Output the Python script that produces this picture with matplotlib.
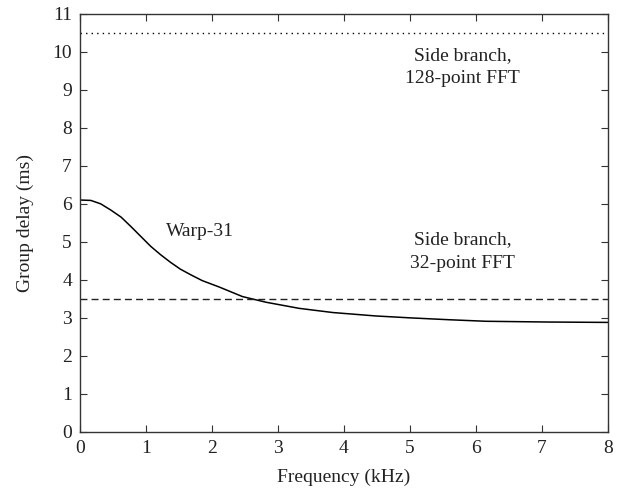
import matplotlib
matplotlib.use("Agg")
import matplotlib.pyplot as plt

plt.rcParams['font.family'] = ['Liberation Serif', 'DejaVu Serif']

freq_khz = [0.0, 0.16, 0.31, 0.46, 0.62, 0.77, 0.92, 1.07, 1.22, 1.37, 1.52, 1.68,
            1.85, 2.11, 2.46, 2.82, 3.32, 3.83, 4.48, 5.0, 5.6, 6.15, 7.1, 8.0]
warp31_ms = [6.1, 6.09, 6.0, 5.84, 5.65, 5.40, 5.14, 4.88, 4.66, 4.46, 4.28, 4.13,
             3.98, 3.81, 3.56, 3.41, 3.25, 3.14, 3.05, 3.0, 2.95, 2.91, 2.89, 2.88]
side_32_ms = 3.5
side_128_ms = 10.5

fig = plt.figure(figsize=(6.22, 4.93), dpi=100)
ax = fig.add_axes([0.129, 0.124, 0.848, 0.848])

ax.plot(freq_khz, warp31_ms, color='black', lw=1.1)
ax.axhline(side_32_ms, color='#222222', lw=1.0, ls=(0, (5, 3)))
ax.axhline(side_128_ms, color='black', lw=1.0, ls=(0, (1, 3)))

ax.set_xlim(0, 8)
ax.set_ylim(0, 11)
ax.set_xticks(range(0, 9))
ax.set_yticks(range(0, 12))
ax.tick_params(direction='in', top=True, right=True, labelsize=14, length=5,
               color='#333333', pad=6, labelcolor='#222222')
for s in ax.spines.values():
    s.set_color('#333333')
    s.set_linewidth(1.0)

ax.set_xlabel('Frequency (kHz)', fontsize=14, color='#222222', labelpad=8)
ax.set_ylabel('Group delay (ms)', fontsize=14, color='#222222', labelpad=13)

ax.text(5.8, 9.6, 'Side branch,\n128-point FFT', ha='center', va='center',
        fontsize=14, color='#222222', linespacing=1.5)
ax.text(5.8, 4.75, 'Side branch,\n32-point FFT', ha='center', va='center',
        fontsize=14, color='#222222', linespacing=1.5)
ax.text(1.3, 5.26, 'Warp-31', ha='left', va='center', fontsize=14, color='#222222')

fig.savefig('out.png', dpi=100)
